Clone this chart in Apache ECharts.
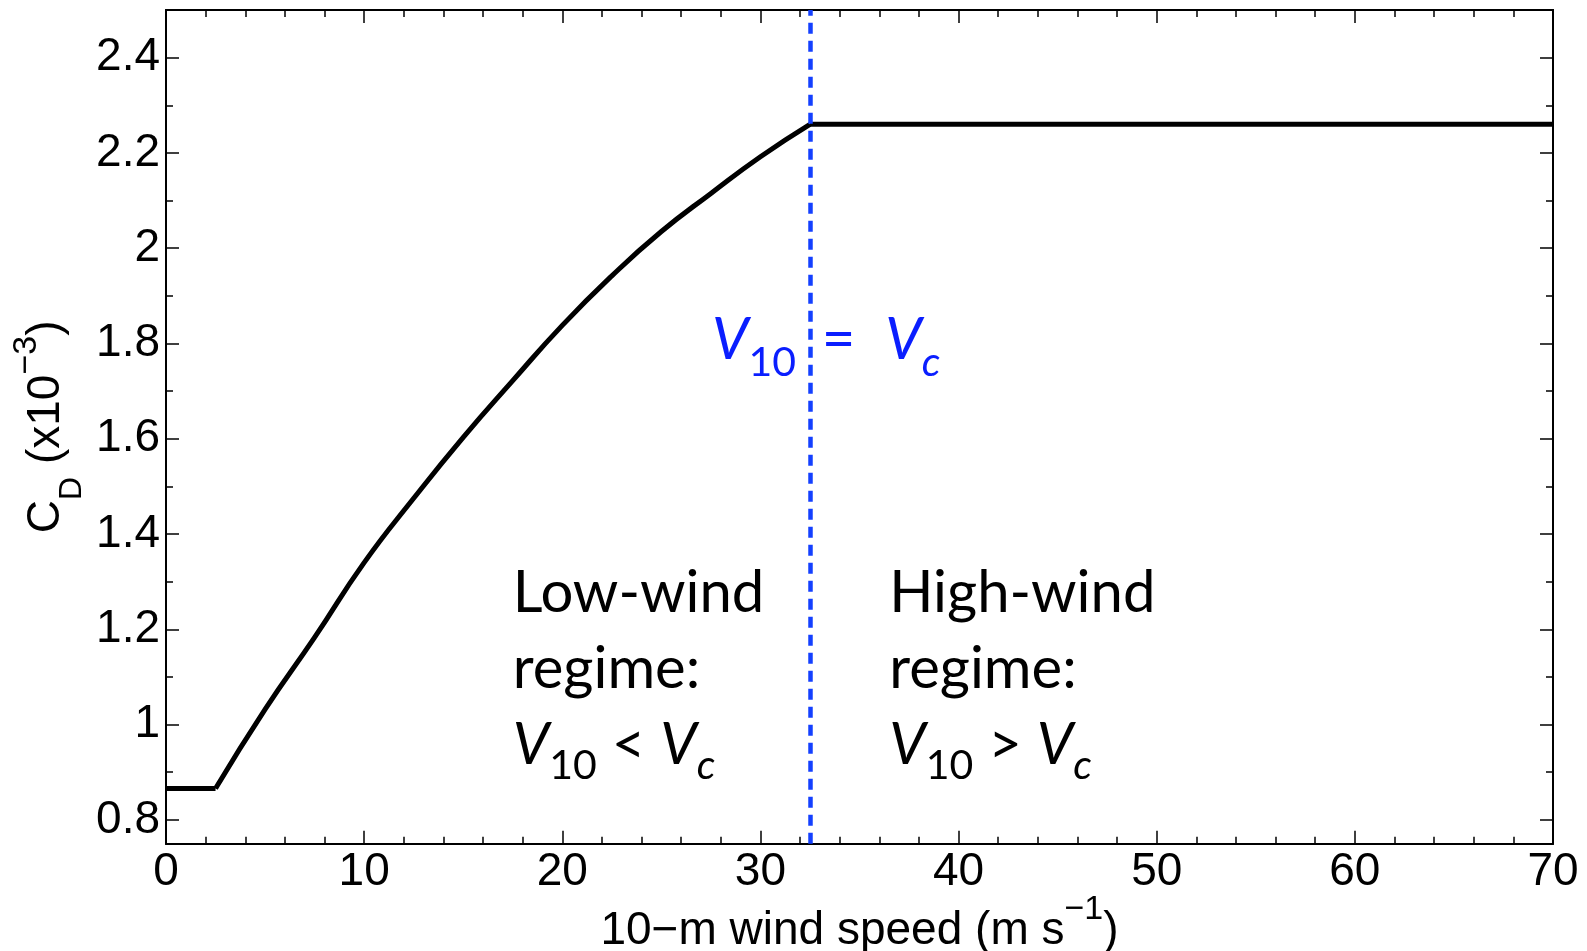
<!DOCTYPE html>
<html><head><meta charset="utf-8">
<script src="https://cdn.jsdelivr.net/npm/echarts@6/dist/echarts.min.js"></script>
<style>html,body{margin:0;padding:0;background:#fff}#chart{width:1587px;height:951px}</style>
</head><body><div id="chart"></div>
<script>
// ---- data ----
const windSpeed = [0, 2.5, 5, 7.5, 10, 12.5, 15, 17.5, 20, 22.5, 25, 27.5, 30, 32.5, 70];
const dragCoef  = [0.866, 0.866, 1.032, 1.183, 1.340, 1.475, 1.603, 1.722, 1.838, 1.942, 2.035, 2.115, 2.192, 2.26, 2.26];
const lowKinkIndex = 1;    // end of low-speed plateau
const highKinkIndex = 13;  // start of high-speed plateau
const criticalSpeed = 32.5;
const yMajorTicks = [0.8, 1, 1.2, 1.4, 1.6, 1.8, 2, 2.2, 2.4];
const yMinorTicks = [0.9, 1.1, 1.3, 1.5, 1.7, 1.9, 2.1, 2.3];
const xMin = 0, xMax = 70, xStep = 10;
const yMin = 0.75, yMax = 2.5;

const BLACK = '#000';
const BLUE_LINE = '#1440ff';
const BLUE_TEXT = '#0a1eff';
const HELV = 'Liberation Sans, Arial, sans-serif';
const CALIBRI = 'Lato, Carlito, sans-serif';

const pairs = windSpeed.map((v, i) => [v, dragCoef[i]]);
const lowPart = pairs.slice(0, lowKinkIndex + 1);
const curvePart = pairs.slice(lowKinkIndex, highKinkIndex + 1);
const highPart = pairs.slice(highKinkIndex);

const chart = echarts.init(document.getElementById('chart'), null, {renderer: 'canvas'});

const tickLine = {color: BLACK, width: 1.5};
function xAx(pos, show) {
  return {
    type: 'value', position: pos, min: xMin, max: xMax, interval: xStep,
    axisLine: {show: true, onZero: false, lineStyle: {color: BLACK, width: 2}},
    axisTick: {show: true, inside: true, length: 13, lineStyle: tickLine},
    minorTick: {show: true, splitNumber: 5, length: 7, lineStyle: tickLine},
    splitLine: {show: false}, minorSplitLine: {show: false},
    axisLabel: {show: show, margin: 6, fontSize: 46, color: BLACK, fontFamily: HELV, hideOverlap: false},
  };
}
function yAx(pos, ticks, len, labels) {
  return {
    type: 'value', position: pos, min: yMin, max: yMax,
    axisLine: {show: true, onZero: false, lineStyle: {color: BLACK, width: 2}},
    axisTick: {show: true, inside: true, length: len, customValues: ticks, lineStyle: tickLine},
    splitLine: {show: false},
    axisLabel: labels ? {show: true, customValues: ticks, margin: 6, fontSize: 46, color: BLACK, fontFamily: HELV}
                      : {show: false},
  };
}

const xBottom = xAx('bottom', true);
Object.assign(xBottom, {
  name: '10\u2212m wind speed (m s{sup|\u22121})',
  nameLocation: 'middle', nameGap: 49, nameMoveOverlap: false,
  nameTextStyle: {fontSize: 46, fontFamily: HELV, color: BLACK, lineHeight: 78,
    rich: {sup: {fontSize: 34, fontFamily: HELV, color: BLACK, verticalAlign: 'top', lineHeight: 10}}}
});
const yLeft = yAx('left', yMajorTicks, 13, true);
Object.assign(yLeft, {
  name: 'C{sub|D} (x10{sup|\u22123})',
  nameLocation: 'middle', nameRotate: 90, nameGap: 80, nameMoveOverlap: false,
  nameTextStyle: {fontSize: 46, fontFamily: HELV, color: BLACK, lineHeight: 80,
    rich: {
      sub: {fontSize: 32, fontFamily: HELV, color: BLACK, verticalAlign: 'top', lineHeight: 10, padding: [50, 0, 0, 0]},
      sup: {fontSize: 34, fontFamily: HELV, color: BLACK, verticalAlign: 'top', lineHeight: 10, padding: [4, 0, 0, 0]}
    }}
});

const lineStyle = {color: BLACK, width: 5};
chart.setOption({
  animation: false,
  backgroundColor: '#fff',
  grid: {left: 166, right: 34, top: 10, bottom: 107.3, containLabel: false, outerBoundsMode: 'none'},
  xAxis: [xBottom, xAx('top', false)],
  yAxis: [yLeft, yAx('left', yMinorTicks, 7, false), yAx('right', yMajorTicks, 13, false), yAx('right', yMinorTicks, 7, false)],
  series: [
    {type: 'line', data: lowPart, symbol: 'none', lineStyle, silent: true},
    {type: 'line', data: curvePart, symbol: 'none', smooth: 0.5, lineStyle, silent: true},
    {type: 'line', data: highPart, symbol: 'none', lineStyle, silent: true, z: 3,
     markLine: {silent: true, symbol: ['none', 'none'], label: {show: false},
       lineStyle: {color: BLUE_LINE, width: 4.5, type: [11, 7]},
       data: [{xAxis: criticalSpeed}]}}
  ]
});

// annotation anchors in data units
const eqLeftAnchor = [31.8, 1.870];
const eqRightAnchor = [33.1, 1.870];
const lowAnchor = [17.5, 1.355];
const highAnchor = [36.5, 1.355];
const px = p => chart.convertToPixel({xAxisIndex: 0, yAxisIndex: 0}, p);

const FS = 58, SUBFS = 41;
const regimeRich = {
  v: {fontSize: FS, fontFamily: CALIBRI, fontStyle: 'italic', lineHeight: 76, fill: BLACK},
  s: {fontSize: SUBFS, fontFamily: CALIBRI, lineHeight: 10, verticalAlign: 'top', padding: [38, 0, 0, 0], fill: BLACK},
  sc: {fontSize: SUBFS, fontFamily: CALIBRI, fontStyle: 'italic', lineHeight: 10, verticalAlign: 'top', padding: [38, 0, 0, 0], fill: BLACK}
};
const eqRich = {
  v: {fontSize: FS, fontFamily: CALIBRI, fontStyle: 'italic', lineHeight: 60, fill: BLUE_TEXT},
  s: {fontSize: SUBFS, fontFamily: CALIBRI, lineHeight: 10, verticalAlign: 'top', padding: [32, 0, 0, 0], fill: BLUE_TEXT},
  sc: {fontSize: SUBFS, fontFamily: CALIBRI, fontStyle: 'italic', lineHeight: 10, verticalAlign: 'top', padding: [32, 0, 0, 0], fill: BLUE_TEXT}
};
function txt(anchor, text, align, rich, color, lh) {
  const p = px(anchor);
  return {type: 'text', x: p[0], y: p[1], z: 10, silent: true,
    style: {text, align, verticalAlign: 'top', fontSize: FS, fontFamily: CALIBRI,
      lineHeight: lh, fill: color, rich}};
}
chart.setOption({
  graphic: [
    txt(eqLeftAnchor, '{v|V}{s|10}', 'right', eqRich, BLUE_TEXT, 60),
    txt(eqRightAnchor, '=  {v|V}{sc|c}', 'left', eqRich, BLUE_TEXT, 60),
    txt(lowAnchor, 'Low-wind\nregime:\n{v|V}{s|10} < {v|V}{sc|c}', 'left', regimeRich, BLACK, 76),
    txt(highAnchor, 'High-wind\nregime:\n{v|V}{s|10} > {v|V}{sc|c}', 'left', regimeRich, BLACK, 76)
  ]
});
</script></body></html>
